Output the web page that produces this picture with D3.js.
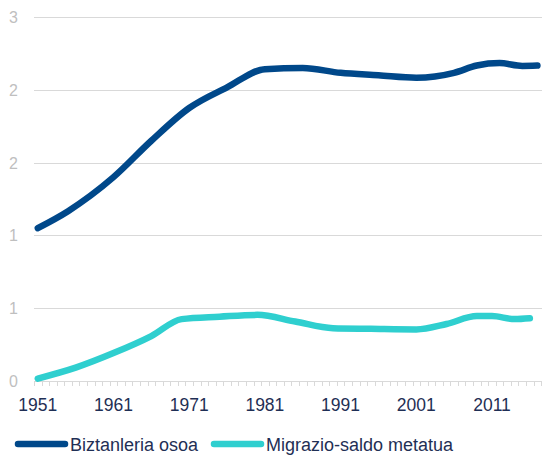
<!DOCTYPE html>
<html>
<head>
<meta charset="utf-8">
<script src="https://cdn.jsdelivr.net/npm/d3@7"></script>
<style>
  html, body { margin: 0; padding: 0; background: #fff; }
  svg { display: block; font-family: "Liberation Sans", Arial, sans-serif; }
</style>
</head>
<body>
<svg id="chart" width="542" height="456"></svg>
<script>
// Year axis (one band per year)
const years = d3.range(1951, 2018);
const labelYears = [1951, 1961, 1971, 1981, 1991, 2001, 2011];

// Y axis ticks and their printed labels
const yTicks = [0, 0.6, 1.2, 1.8, 2.4, 3.0];
const yTickLabels = ["0", "1", "1", "2", "2", "3"];

// Series: total population
const totalYears  = [1951, 1955, 1961, 1966, 1971, 1976, 1981, 1986, 1991, 1996, 2001, 2006, 2009, 2012, 2015, 2017];
const totalValues = [1.26, 1.40, 1.68, 1.98, 2.25, 2.42, 2.57, 2.58, 2.54, 2.52, 2.50, 2.54, 2.60, 2.62, 2.597, 2.60];

// Series: cumulative migration balance
const migYears  = [1951, 1956, 1961, 1966, 1970, 1975, 1980, 1985, 1990, 1995, 2001, 2005, 2009, 2011, 2014, 2016];
const migValues = [0.02, 0.11, 0.23, 0.37, 0.51, 0.53, 0.545, 0.49, 0.435, 0.43, 0.425, 0.47, 0.535, 0.535, 0.51, 0.517];

const seriesNames = ["Biztanleria osoa", "Migrazio-saldo metatua"];
const seriesColors = ["#00488a", "#2fcfcf"];

const svg = d3.select("#chart");

const x = d3.scaleBand().domain(years).range([34, 541.2]).paddingInner(0).paddingOuter(0);
const y = d3.scaleLinear().domain([0, 3]).range([381, 17]);
const cx = yr => x(yr) + x.bandwidth() / 2;

// Horizontal gridlines
svg.append("g").selectAll("line")
  .data(yTicks)
  .join("line")
  .attr("x1", 34).attr("x2", 542)
  .attr("y1", d => Math.round(y(d)) + 0.5).attr("y2", d => Math.round(y(d)) + 0.5)
  .attr("stroke", "#d9d9d9").attr("stroke-width", 1.2);

// Minor ticks on the year axis at band boundaries
svg.append("g").selectAll("line")
  .data(years.concat([2018]))
  .join("line")
  .attr("x1", d => Math.round(d === 2018 ? x(2017) + x.step() : x(d)) + 0.5)
  .attr("x2", d => Math.round(d === 2018 ? x(2017) + x.step() : x(d)) + 0.5)
  .attr("y1", Math.round(y(0))).attr("y2", Math.round(y(0)) + 5)
  .attr("stroke", "#d9d9d9").attr("stroke-width", 1);

// Y tick labels
svg.append("g").selectAll("text")
  .data(yTicks)
  .join("text")
  .attr("x", 18).attr("y", d => y(d) + 6)
  .attr("text-anchor", "end")
  .attr("font-size", 16)
  .attr("fill", "#bfbfbf")
  .text((d, i) => yTickLabels[i]);

// X tick labels
svg.append("g").selectAll("text")
  .data(labelYears)
  .join("text")
  .attr("x", d => cx(d)).attr("y", 410.5)
  .attr("text-anchor", "middle")
  .attr("font-size", 17.5)
  .attr("fill", "#1f2f55")
  .text(d => d);

// Lines
const line = d3.line().x(d => cx(d[0])).y(d => y(d[1])).curve(d3.curveMonotoneX);
const seriesData = [
  totalYears.map((yr, i) => [yr, totalValues[i]]),
  migYears.map((yr, i) => [yr, migValues[i]])
];
svg.append("g").selectAll("path")
  .data(seriesData)
  .join("path")
  .attr("d", line)
  .attr("fill", "none")
  .attr("stroke", (d, i) => seriesColors[i])
  .attr("stroke-width", 6.5)
  .attr("stroke-linecap", "round")
  .attr("stroke-linejoin", "round");

// Legend
const legendX = [18, 214];
const lg = svg.append("g").selectAll("g")
  .data(seriesNames)
  .join("g")
  .attr("transform", (d, i) => `translate(${legendX[i]},444)`);
lg.append("line")
  .attr("x1", 0).attr("x2", 47).attr("y1", 0).attr("y2", 0)
  .attr("stroke", (d, i) => seriesColors[i])
  .attr("stroke-width", 6.5)
  .attr("stroke-linecap", "round");
lg.append("text")
  .attr("x", 52).attr("y", 6.5)
  .attr("font-size", 18)
  .attr("fill", "#1f2f55")
  .text(d => d);
</script>
</body>
</html>
